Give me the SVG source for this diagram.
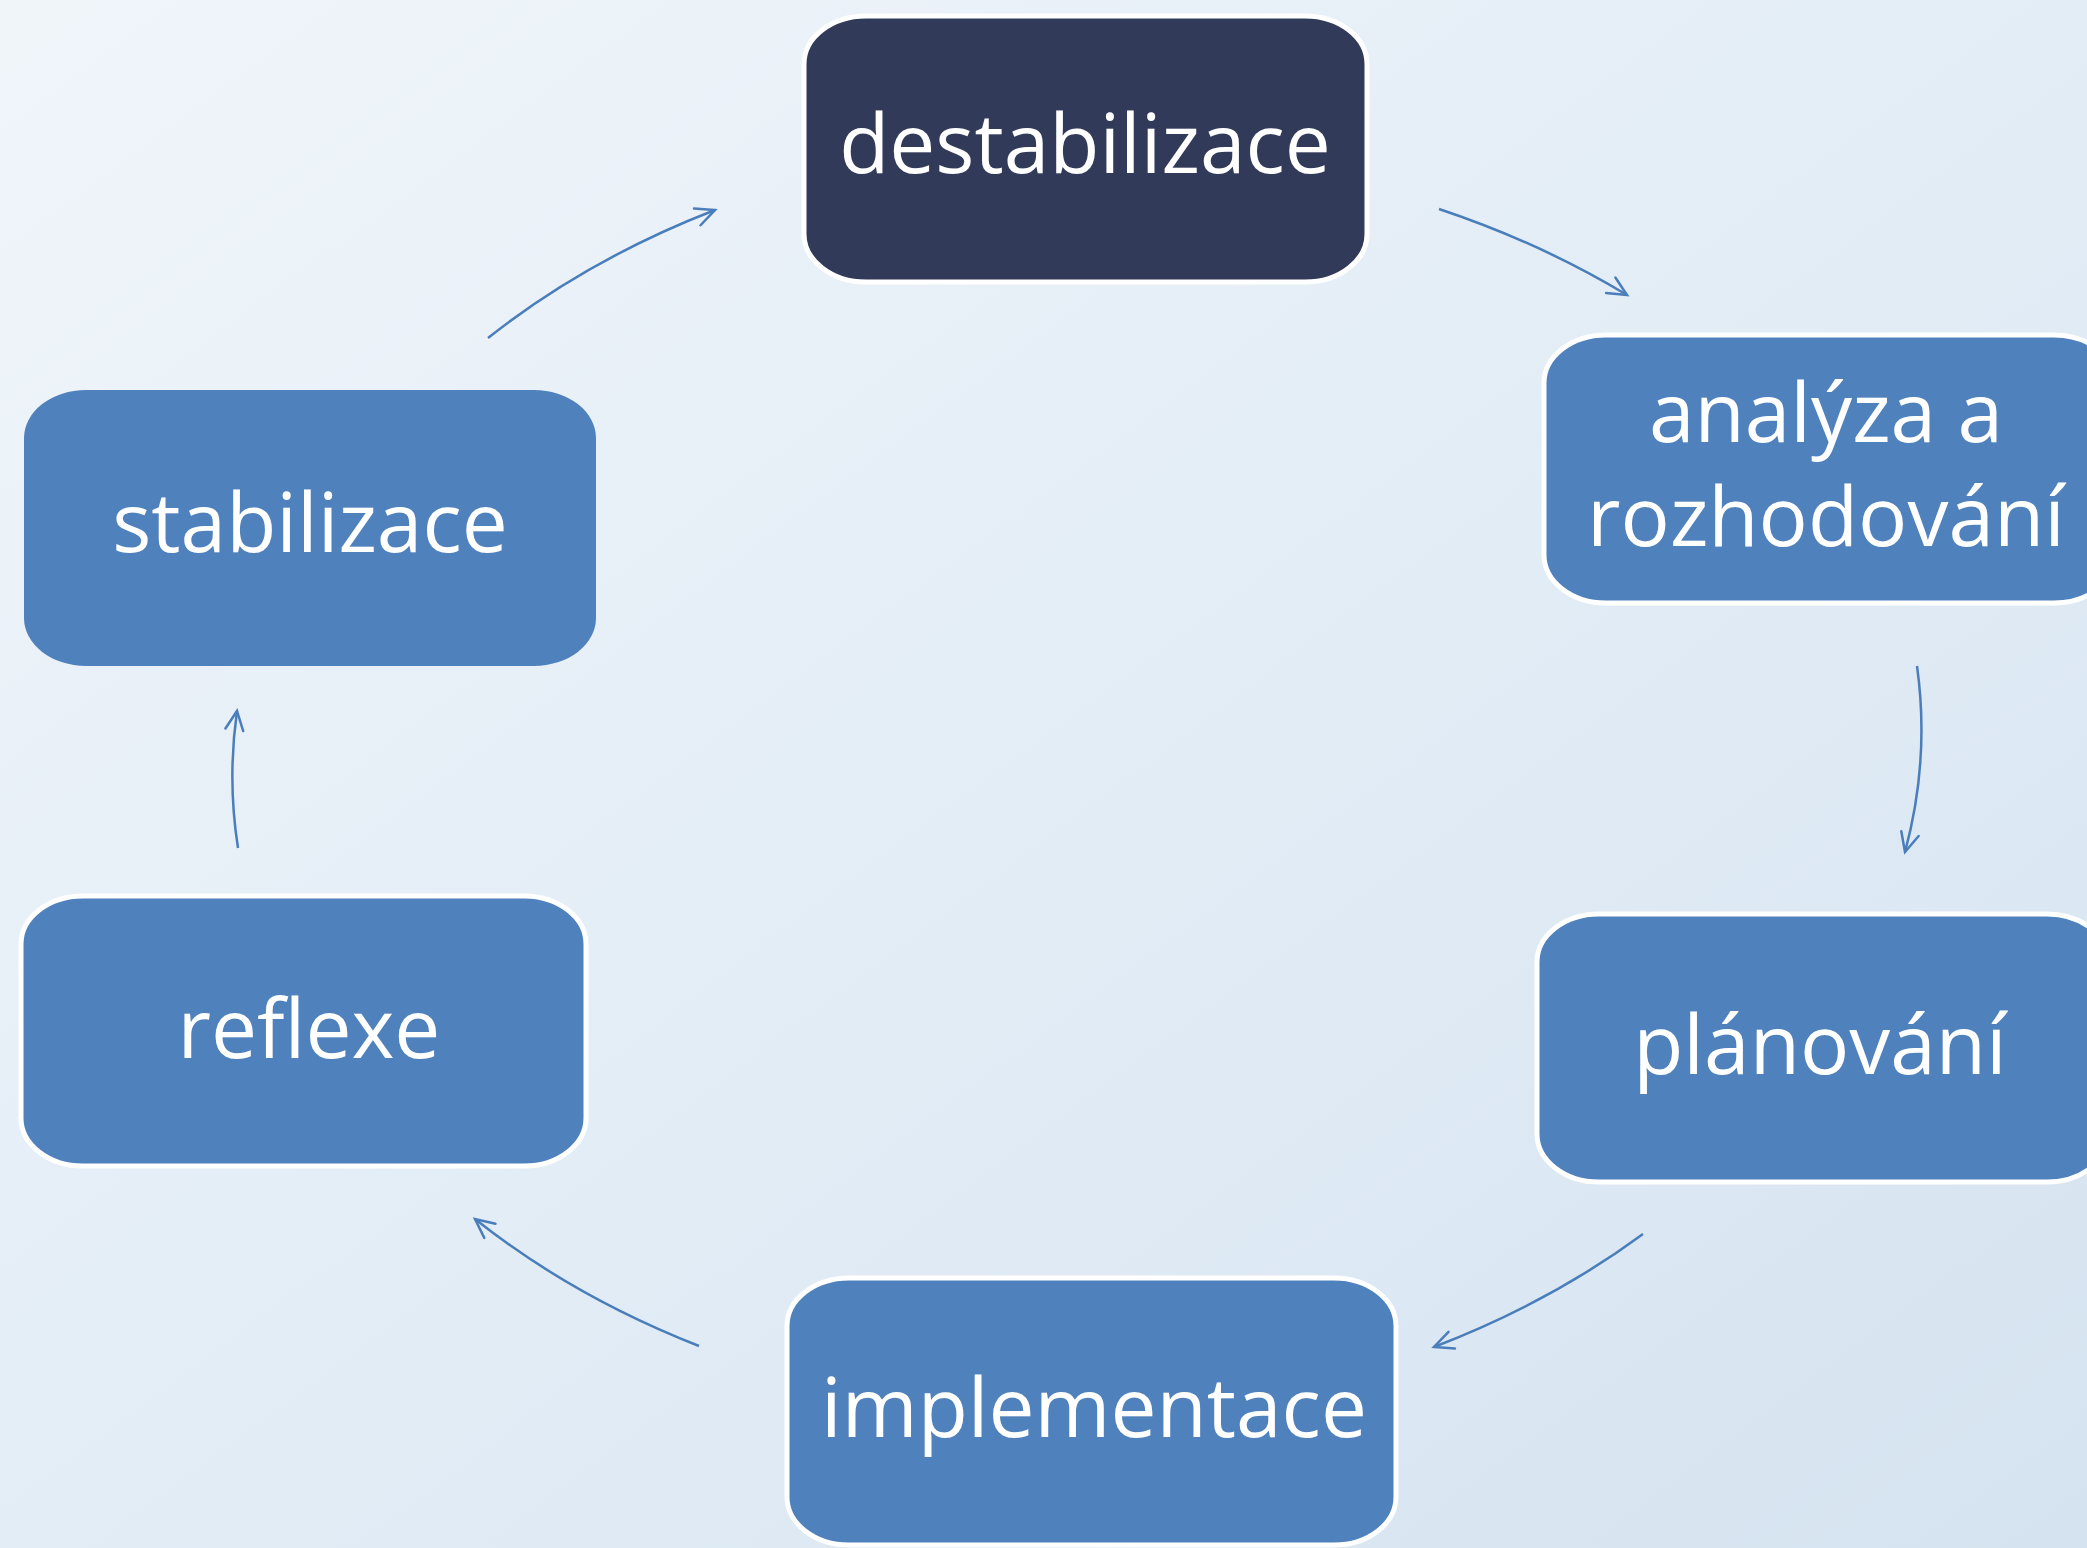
<svg xmlns="http://www.w3.org/2000/svg" width="2087" height="1548" viewBox="0 0 2087 1548">
<defs>
<linearGradient id="bg" x1="0" y1="0" x2="1" y2="1">
<stop offset="0" stop-color="#F0F5FA"/>
<stop offset="0.5" stop-color="#E3EDF6"/>
<stop offset="1" stop-color="#D5E3F0"/>
</linearGradient>
<marker id="arr" markerUnits="userSpaceOnUse" markerWidth="30" markerHeight="30" viewBox="-25 -15 30 30" refX="0" refY="0" orient="auto">
<path d="M-19,-9 L0,0 L-19,9" fill="none" stroke="#4A7EBB" stroke-width="2.5" stroke-linecap="round"/>
</marker>
<style>
.box{fill:#4F81BD;stroke:#FFFFFF;stroke-width:5}
.dark{fill:#323A59;stroke:#FFFFFF;stroke-width:5}
.nob{fill:#4F81BD;stroke:none}
.lbl{font-family:"Open Sans","Noto Sans",sans-serif;font-size:82px;fill:#FFFFFF;text-anchor:middle}
.con{fill:none;stroke:#4A7EBB;stroke-width:2.5;marker-end:url(#arr)}
</style>
</defs>
<rect x="0" y="0" width="2087" height="1548" fill="url(#bg)"/>
<g id="connectors">
<path class="con" d="M1439,209 A852,626 0 0 1 1627,295"/>
<path class="con" d="M1917,666 A852,626 0 0 1 1905,852"/>
<path class="con" d="M1643,1234 A852,626 0 0 1 1434,1347"/>
<path class="con" d="M699,1346 A852,626 0 0 1 475,1219"/>
<path class="con" d="M238,848 A852,626 0 0 1 237,711"/>
<path class="con" d="M488,338 A852,626 0 0 1 715,210"/>
</g>
<g id="node-destabilizace">
<rect class="dark" x="804" y="16" width="563" height="266" rx="62" ry="48"/>
<text class="lbl" x="1085" y="173">destabilizace</text>
</g>
<g id="node-analyza">
<rect class="box" x="1544" y="335" width="572" height="268" rx="62" ry="48"/>
<text class="lbl" x="1826" y="442">analýza a</text>
<text class="lbl" x="1826" y="546">rozhodování</text>
</g>
<g id="node-planovani">
<rect class="box" x="1537" y="914" width="572" height="268" rx="62" ry="48"/>
<text class="lbl" x="1820" y="1074">plánování</text>
</g>
<g id="node-implementace">
<rect class="box" x="787" y="1278" width="609" height="267" rx="62" ry="48"/>
<text class="lbl" x="1094" y="1437">implementace</text>
</g>
<g id="node-reflexe">
<rect class="box" x="21" y="896" width="565" height="270" rx="62" ry="48"/>
<text class="lbl" x="309" y="1058">reflexe</text>
</g>
<g id="node-stabilizace">
<rect class="nob" x="24" y="390" width="572" height="276" rx="62" ry="48"/>
<text class="lbl" x="310" y="552">stabilizace</text>
</g>
</svg>
